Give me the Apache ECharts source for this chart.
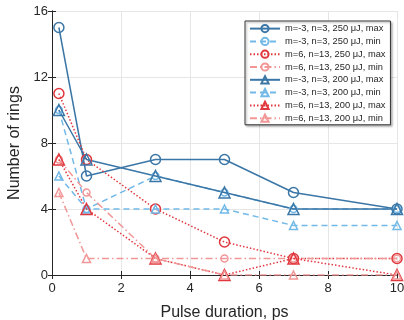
<!DOCTYPE html>
<html>
<head>
<meta charset="utf-8">
<script src="https://cdn.jsdelivr.net/npm/echarts@6/dist/echarts.min.js"></script>
<style>
  html, body { margin: 0; padding: 0; background: #fff; }
  #chart { width: 404px; height: 320px; }
</style>
</head>
<body>
<div id="chart"></div>
<script>
// pulse durations, ps
const durations = [0.2, 1, 3, 5, 7, 10];

const maxM3n3E250 = [15, 6, 7, 7, 5, 4];
const minM3n3E250 = [10, 4, 6, 5, 4, 4];
const maxM6n13E250 = [11, 7, 4, 2, 1, 1];
const minM6n13E250 = [7, 5, 1, 1, 1, 1];
const maxM3n3E200 = [10, 7, 6, 5, 4, 4];
const minM3n3E200 = [6, 4, 4, 4, 3, 3];
const maxM6n13E200 = [7, 4, 1, 0, 1, 0];
const minM6n13E200 = [5, 1, 1, 0, 0, 0];

const seriesNames = [
  'm=-3, n=3, 250 μJ, max',
  'm=-3, n=3, 250 μJ, min',
  'm=6, n=13, 250 μJ, max',
  'm=6, n=13, 250 μJ, min',
  'm=-3, n=3, 200 μJ, max',
  'm=-3, n=3, 200 μJ, min',
  'm=6, n=13, 200 μJ, max',
  'm=6, n=13, 200 μJ, min',
];

const xTicks = [0, 2, 4, 6, 8, 10];
const yTicks = [0, 4, 8, 12, 16];

const DARK_BLUE = '#3a76a6';
const LIGHT_BLUE = '#72b9e8';
const RED = '#e0383e';
const LIGHT_RED = '#f29797';

const DASH = [6, 4];
const DOT = [1.5, 2];
const DASH_DOT = [7, 3, 1.5, 3];

const FONT = 'Liberation Sans, Arial, sans-serif';

const pair = (ys) => durations.map((x, i) => [x, ys[i]]);

const makeSeries = (name, ys, color, lineType, symbol, size, width) => ({
  name,
  type: 'line',
  data: pair(ys),
  symbol,
  symbolSize: size,
  showAllSymbol: true,
  lineStyle: { color, width, type: lineType },
  itemStyle: { color: 'rgba(255,255,255,0)', borderColor: color, borderWidth: 1.5 },
  emphasis: { disabled: true },
  animation: false,
});

const chart = echarts.init(document.getElementById('chart'));

const axisCommon = {
  type: 'value',
  splitLine: { show: true, lineStyle: { color: '#e6e6e6', width: 1 } },
  axisLine: { show: true, lineStyle: { color: '#262626', width: 1 } },
  axisTick: { show: true, inside: true, length: 4, lineStyle: { color: '#262626' } },
  axisLabel: { color: '#262626', fontSize: 13, fontFamily: FONT },
  nameTextStyle: { color: '#262626', fontSize: 16, fontFamily: FONT },
};

chart.setOption({
  backgroundColor: '#fff',
  grid: { left: 52, right: 7, top: 11, bottom: 45, containLabel: false, outerBoundsMode: 'none' },
  legend: {
    data: seriesNames,
    orient: 'vertical',
    left: 245,
    top: 21,
    itemWidth: 30,
    itemHeight: 9,
    itemGap: 3.6,
    padding: [3, 5, 2, 4],
    backgroundColor: '#fff',
    borderColor: '#333',
    borderWidth: 1,
    shadowColor: 'rgba(0,0,0,0.3)',
    shadowBlur: 2,
    shadowOffsetX: 1.5,
    shadowOffsetY: 1.5,
    textStyle: { color: '#262626', fontSize: 9.3, lineHeight: 9, fontFamily: FONT },
    selectedMode: false,
  },
  xAxis: [
    {
      ...axisCommon,
      min: xTicks[0],
      max: xTicks[xTicks.length - 1],
      interval: 2,
      name: 'Pulse duration, ps',
      nameLocation: 'middle',
      nameGap: 30,
      axisLabel: { ...axisCommon.axisLabel, margin: 7 },
    },
    {
      ...axisCommon,
      position: 'top',
      min: xTicks[0],
      max: xTicks[xTicks.length - 1],
      interval: 2,
      splitLine: { show: false },
      axisLabel: { show: false },
    },
  ],
  yAxis: [
    {
      ...axisCommon,
      min: yTicks[0],
      max: yTicks[yTicks.length - 1],
      interval: 4,
      name: 'Number of rings',
      nameLocation: 'middle',
      nameGap: 21,
      axisLabel: { ...axisCommon.axisLabel, margin: 4 },
    },
    {
      ...axisCommon,
      position: 'right',
      min: yTicks[0],
      max: yTicks[yTicks.length - 1],
      interval: 4,
      splitLine: { show: false },
      axisLabel: { show: false },
    },
  ],
  series: [
    makeSeries(seriesNames[0], maxM3n3E250, DARK_BLUE, 'solid', 'circle', 10, 1.5),
    makeSeries(seriesNames[1], minM3n3E250, LIGHT_BLUE, DASH, 'circle', 7, 1.5),
    makeSeries(seriesNames[2], maxM6n13E250, RED, DOT, 'circle', 10, 1.5),
    makeSeries(seriesNames[3], minM6n13E250, LIGHT_RED, DASH_DOT, 'circle', 7, 1.5),
    makeSeries(seriesNames[4], maxM3n3E200, DARK_BLUE, 'solid', 'triangle', 11, 1.5),
    makeSeries(seriesNames[5], minM3n3E200, LIGHT_BLUE, DASH, 'triangle', 8, 1.5),
    makeSeries(seriesNames[6], maxM6n13E200, RED, DOT, 'triangle', 11, 1.5),
    makeSeries(seriesNames[7], minM6n13E200, LIGHT_RED, DASH_DOT, 'triangle', 8, 1.5),
  ],
});
</script>
</body>
</html>
